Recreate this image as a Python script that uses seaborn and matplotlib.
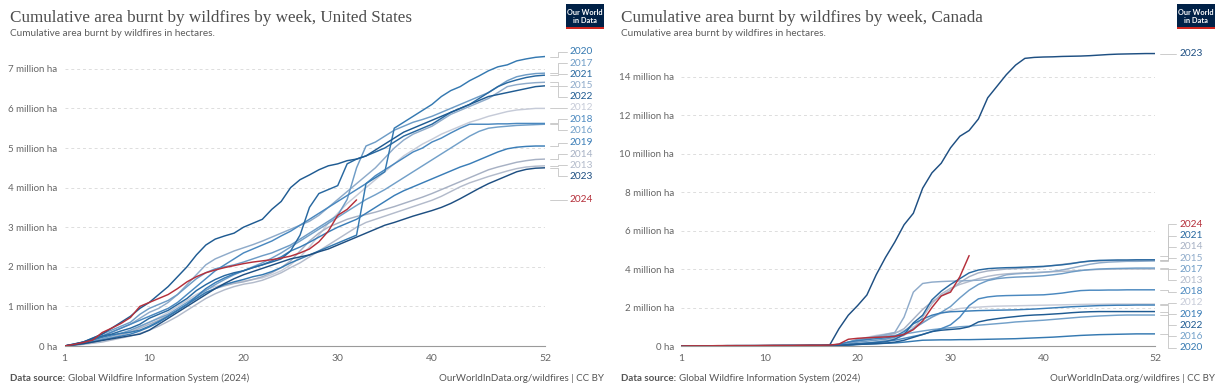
import pandas as pd
import seaborn as sns
import matplotlib.pyplot as plt
from matplotlib.patches import Rectangle

# Cumulative burnt area, million hectares, by week (1..52)
weeks = list(range(1, 53))
years = list(range(2012, 2025))

us_2012 = [0, .02, .05, .10, .15, .22, .30, .38, .48, .60,
           .72, .85, 1.00, 1.15, 1.30, 1.42, 1.50, 1.56, 1.60, 1.64,
           1.68, 1.72, 1.80, 1.90, 2.05, 2.25, 2.50, 2.80, 3.10, 3.35,
           3.60, 3.80, 4.00, 4.20, 4.40, 4.60, 4.80, 4.95, 5.10, 5.22,
           5.35, 5.45, 5.55, 5.65, 5.72, 5.80, 5.86, 5.92, 5.96, 5.98,
           6.00, 6.00]
us_2013 = [0, .02, .04, .07, .10, .15, .20, .25, .32, .40,
           .50, .62, .75, .90, 1.05, 1.20, 1.32, 1.42, 1.50, 1.56,
           1.60, 1.66, 1.75, 1.85, 1.98, 2.10, 2.25, 2.40, 2.55, 2.70,
           2.85, 3.00, 3.12, 3.20, 3.28, 3.36, 3.44, 3.52, 3.60, 3.68,
           3.78, 3.90, 4.02, 4.12, 4.20, 4.28, 4.35, 4.42, 4.48, 4.52,
           4.54, 4.55]
us_2014 = [0, .02, .05, .10, .15, .20, .28, .35, .45, .55,
           .65, .78, .90, 1.05, 1.20, 1.35, 1.45, 1.52, 1.58, 1.62,
           1.68, 1.75, 1.85, 1.98, 2.15, 2.40, 2.65, 2.85, 3.00, 3.10,
           3.20, 3.27, 3.32, 3.38, 3.45, 3.52, 3.60, 3.68, 3.76, 3.85,
           3.95, 4.05, 4.15, 4.25, 4.35, 4.45, 4.52, 4.58, 4.64, 4.68,
           4.71, 4.72]
us_2015 = [0, .03, .08, .15, .25, .35, .45, .55, .70, .85,
           .95, 1.10, 1.30, 1.55, 1.80, 2.05, 2.20, 2.30, 2.40, 2.48,
           2.56, 2.65, 2.75, 2.85, 2.95, 3.05, 3.15, 3.30, 3.50, 3.70,
           3.90, 4.10, 4.30, 4.50, 4.75, 5.00, 5.20, 5.35, 5.45, 5.55,
           5.70, 5.85, 5.95, 6.05, 6.15, 6.25, 6.40, 6.55, 6.60, 6.63,
           6.65, 6.66]
us_2016 = [0, .03, .07, .12, .18, .25, .32, .40, .50, .60,
           .70, .80, .95, 1.10, 1.25, 1.40, 1.55, 1.68, 1.80, 1.90,
           2.00, 2.10, 2.22, 2.35, 2.50, 2.65, 2.80, 2.95, 3.10, 3.25,
           3.40, 3.55, 3.70, 3.82, 3.95, 4.10, 4.25, 4.40, 4.55, 4.70,
           4.85, 5.00, 5.15, 5.30, 5.42, 5.50, 5.53, 5.55, 5.57, 5.58,
           5.59, 5.60]
us_2017 = [0, .05, .10, .20, .30, .40, .50, .60, .80, .95,
           1.05, 1.15, 1.30, 1.50, 1.70, 1.85, 1.95, 2.00, 2.05, 2.12,
           2.20, 2.28, 2.35, 2.45, 2.55, 2.70, 2.85, 3.00, 3.15, 3.30,
           3.70, 4.50, 5.05, 5.15, 5.30, 5.45, 5.55, 5.65, 5.72, 5.80,
           5.90, 6.00, 6.10, 6.20, 6.30, 6.40, 6.55, 6.70, 6.80, 6.85,
           6.88, 6.89]
us_2018 = [0, .04, .10, .17, .25, .35, .45, .55, .65, .75,
           .85, .95, 1.10, 1.30, 1.50, 1.70, 1.90, 2.05, 2.20, 2.35,
           2.45, 2.55, 2.65, 2.78, 2.90, 3.05, 3.20, 3.35, 3.50, 3.65,
           3.80, 3.95, 4.10, 4.30, 4.45, 4.60, 4.75, 4.90, 5.00, 5.15,
           5.25, 5.38, 5.50, 5.60, 5.60, 5.60, 5.61, 5.61, 5.62, 5.62,
           5.62, 5.62]
us_2019 = [0, .03, .06, .10, .15, .20, .25, .30, .38, .48,
           .60, .75, .90, 1.05, 1.25, 1.45, 1.60, 1.72, 1.82, 1.90,
           1.98, 2.05, 2.15, 2.25, 2.40, 2.50, 2.62, 2.75, 2.88, 3.00,
           3.10, 3.20, 3.35, 3.50, 3.65, 3.80, 3.92, 4.02, 4.12, 4.22,
           4.32, 4.42, 4.52, 4.60, 4.70, 4.80, 4.90, 4.98, 5.02, 5.04,
           5.05, 5.05]
us_2020 = [0, .03, .08, .15, .22, .28, .32, .35, .40, .50,
           .62, .75, .90, 1.05, 1.20, 1.35, 1.45, 1.55, 1.62, 1.68,
           1.75, 1.80, 1.88, 1.98, 2.10, 2.20, 2.30, 2.40, 2.50, 2.60,
           2.70, 2.80, 4.10, 4.25, 4.40, 5.50, 5.65, 5.80, 5.95, 6.10,
           6.30, 6.45, 6.55, 6.70, 6.82, 6.95, 7.05, 7.10, 7.20, 7.25,
           7.29, 7.31]
us_2021 = [0, .04, .10, .18, .25, .30, .38, .45, .55, .70,
           .80, .90, 1.05, 1.20, 1.40, 1.55, 1.68, 1.78, 1.85, 1.90,
           1.98, 2.05, 2.12, 2.20, 2.40, 2.80, 3.50, 3.85, 3.95, 4.05,
           4.60, 4.72, 4.80, 4.90, 5.00, 5.15, 5.30, 5.40, 5.50, 5.60,
           5.75, 5.90, 6.00, 6.10, 6.25, 6.40, 6.55, 6.65, 6.72, 6.78,
           6.82, 6.84]
us_2022 = [0, .05, .10, .20, .30, .45, .60, .75, .95, 1.10,
           1.30, 1.50, 1.75, 2.00, 2.30, 2.55, 2.70, 2.78, 2.85, 3.00,
           3.10, 3.20, 3.45, 3.65, 4.00, 4.20, 4.32, 4.45, 4.55, 4.60,
           4.68, 4.72, 4.80, 4.95, 5.10, 5.25, 5.40, 5.50, 5.60, 5.70,
           5.80, 5.90, 6.00, 6.10, 6.20, 6.30, 6.35, 6.40, 6.45, 6.50,
           6.55, 6.57]
us_2023 = [0, .03, .06, .10, .14, .18, .22, .26, .30, .40,
           .55, .70, .85, 1.00, 1.15, 1.30, 1.45, 1.58, 1.70, 1.80,
           1.88, 1.96, 2.04, 2.12, 2.20, 2.25, 2.30, 2.38, 2.45, 2.55,
           2.65, 2.75, 2.85, 2.95, 3.05, 3.12, 3.20, 3.28, 3.35, 3.42,
           3.50, 3.60, 3.72, 3.85, 3.98, 4.10, 4.20, 4.30, 4.40, 4.46,
           4.49, 4.50]
us_2024 = [0, .04, .09, .15, .34, .45, .57, .72, 1.00, 1.10,
           1.20, 1.30, 1.45, 1.62, 1.75, 1.85, 1.92, 1.98, 2.03, 2.08,
           2.12, 2.15, 2.18, 2.22, 2.27, 2.35, 2.45, 2.63, 2.90, 3.30,
           3.45, 3.69]

ca_2012 = [0, .01, .01, .01, .01, .01, .02, .02, .02, .02,
           .02, .02, .03, .03, .03, .03, .04, .06, .10, .30,
           .45, .55, .62, .70, .80, 1.00, 1.25, 1.50, 1.70, 1.85,
           1.95, 2.00, 2.02, 2.05, 2.07, 2.08, 2.09, 2.10, 2.11, 2.12,
           2.13, 2.14, 2.15, 2.16, 2.17, 2.17, 2.18, 2.18, 2.18, 2.18,
           2.18, 2.18]
ca_2013 = [0, .01, .01, .01, .01, .01, .01, .02, .02, .02,
           .02, .02, .02, .02, .03, .03, .03, .04, .05, .10,
           .15, .20, .28, .38, .55, .90, 1.50, 2.20, 2.70, 3.00,
           3.20, 3.35, 3.50, 3.62, 3.70, 3.75, 3.78, 3.80, 3.82, 3.84,
           3.86, 3.88, 3.90, 3.93, 3.96, 3.98, 3.99, 4.00, 4.00, 4.00,
           4.00, 4.00]
ca_2014 = [0, .01, .01, .01, .01, .02, .02, .02, .02, .02,
           .03, .03, .03, .03, .04, .04, .04, .05, .15, .25,
           .35, .45, .55, .65, .90, 1.40, 1.90, 2.30, 2.60, 2.90,
           3.30, 3.60, 3.80, 3.90, 3.95, 4.00, 4.02, 4.05, 4.08, 4.12,
           4.18, 4.24, 4.30, 4.36, 4.40, 4.42, 4.44, 4.45, 4.45, 4.46,
           4.46, 4.46]
ca_2015 = [0, .01, .01, .01, .01, .01, .02, .02, .02, .02,
           .02, .03, .03, .03, .03, .04, .04, .05, .20, .30,
           .40, .50, .60, .70, 1.50, 2.80, 3.25, 3.32, 3.35, 3.37,
           3.38, 3.40, 3.42, 3.45, 3.55, 3.70, 3.75, 3.78, 3.80, 3.83,
           3.88, 3.95, 4.05, 4.15, 4.25, 4.32, 4.36, 4.38, 4.40, 4.40,
           4.41, 4.42]
ca_2016 = [0, .01, .01, .01, .01, .01, .01, .01, .02, .02,
           .02, .02, .02, .02, .03, .03, .04, .05, .20, .35,
           .42, .46, .50, .55, .62, .70, .78, .85, .90, .95,
           1.00, 1.03, 1.08, 1.12, 1.16, 1.20, 1.25, 1.28, 1.31, 1.34,
           1.38, 1.42, 1.46, 1.50, 1.53, 1.56, 1.58, 1.60, 1.61, 1.61,
           1.61, 1.61]
ca_2017 = [0, .01, .01, .01, .01, .01, .01, .01, .01, .02,
           .02, .02, .02, .02, .02, .02, .02, .02, .10, .20,
           .25, .30, .35, .45, .65, .90, 1.20, 1.50, 1.75, 2.05,
           2.50, 2.90, 3.20, 3.40, 3.50, 3.55, 3.58, 3.60, 3.62, 3.65,
           3.70, 3.76, 3.85, 3.92, 3.97, 4.00, 4.02, 4.03, 4.04, 4.05,
           4.05, 4.05]
ca_2018 = [0, .01, .01, .01, .01, .01, .01, .01, .01, .01,
           .01, .01, .02, .02, .02, .02, .02, .02, .05, .10,
           .15, .20, .25, .30, .40, .50, .60, .75, .90, 1.10,
           1.50, 2.10, 2.45, 2.55, 2.60, 2.62, 2.63, 2.64, 2.65, 2.66,
           2.70, 2.75, 2.82, 2.88, 2.90, 2.90, 2.91, 2.91, 2.92, 2.92,
           2.92, 2.92]
ca_2019 = [0, .01, .01, .01, .01, .01, .01, .01, .01, .01,
           .01, .02, .02, .02, .02, .02, .02, .10, .20, .28,
           .33, .38, .42, .50, .75, 1.15, 1.40, 1.60, 1.72, 1.78,
           1.80, 1.82, 1.84, 1.85, 1.86, 1.87, 1.88, 1.90, 1.92, 1.95,
           1.98, 2.01, 2.04, 2.06, 2.08, 2.10, 2.11, 2.12, 2.12, 2.13,
           2.13, 2.13]
ca_2020 = [0, .01, .01, .01, .01, .01, .01, .01, .01, .01,
           .01, .01, .01, .01, .01, .01, .01, .02, .05, .08,
           .10, .12, .14, .16, .20, .25, .30, .31, .32, .32,
           .33, .33, .34, .35, .36, .37, .38, .40, .42, .44,
           .46, .49, .52, .55, .57, .59, .60, .61, .62, .63,
           .63, .63]
ca_2021 = [0, .01, .01, .01, .01, .01, .01, .01, .01, .01,
           .01, .01, .01, .01, .01, .01, .01, .03, .08, .12,
           .15, .18, .22, .35, .60, 1.20, 1.60, 2.40, 2.85, 3.20,
           3.50, 3.80, 3.95, 4.02, 4.05, 4.07, 4.08, 4.10, 4.12, 4.14,
           4.18, 4.22, 4.28, 4.36, 4.42, 4.45, 4.46, 4.47, 4.47, 4.48,
           4.48, 4.48]
ca_2022 = [0, .01, .01, .01, .01, .01, .01, .01, .01, .01,
           .01, .01, .01, .01, .01, .01, .01, .02, .05, .08,
           .10, .12, .15, .20, .30, .45, .60, .75, .82, .86,
           .90, 1.00, 1.25, 1.35, 1.42, 1.48, 1.53, 1.58, 1.61, 1.63,
           1.66, 1.69, 1.73, 1.76, 1.78, 1.79, 1.79, 1.79, 1.79, 1.79,
           1.79, 1.79]
ca_2023 = [0, .01, .01, .01, .01, .02, .02, .02, .02, .02,
           .03, .03, .03, .03, .04, .04, .05, .90, 1.60, 2.10,
           2.65, 3.70, 4.60, 5.40, 6.30, 6.90, 8.20, 9.00, 9.50, 10.30,
           10.90, 11.20, 11.80, 12.90, 13.50, 14.10, 14.60, 14.95, 15.00, 15.02,
           15.03, 15.05, 15.06, 15.07, 15.09, 15.12, 15.15, 15.17, 15.18, 15.19,
           15.20, 15.20]
ca_2024 = [0, .01, .01, .01, .02, .02, .02, .02, .02, .03,
           .03, .03, .03, .04, .04, .04, .05, .10, .35, .40,
           .43, .45, .47, .50, .60, .85, 1.30, 2.00, 2.60, 2.80,
           3.60, 4.70]

us_series = [us_2012, us_2013, us_2014, us_2015, us_2016, us_2017, us_2018,
             us_2019, us_2020, us_2021, us_2022, us_2023, us_2024]
ca_series = [ca_2012, ca_2013, ca_2014, ca_2015, ca_2016, ca_2017, ca_2018,
             ca_2019, ca_2020, ca_2021, ca_2022, ca_2023, ca_2024]

year_colors = {2012: "#c6cbd8", 2013: "#b3bbcb", 2014: "#a7b1c4",
               2015: "#8fabca", 2016: "#72a0c9", 2017: "#6e9cc6",
               2018: "#4a88bf", 2019: "#3a7db7", 2020: "#3579b1",
               2021: "#2868a0", 2022: "#1f5b92", 2023: "#1e4f82",
               2024: "#b5303b"}


def to_long(series):
    rows = []
    for yr, vals in zip(years, series):
        for wk, v in zip(weeks, vals):
            rows.append({"year": yr, "week": wk, "area": v})
    return pd.DataFrame(rows)


sns.set_style("white")
plt.rcParams["font.family"] = ["Lato", "DejaVu Sans"]

W, H = 1222, 386
fig = plt.figure(figsize=(W / 100, H / 100), dpi=100)


def fx(x):
    return x / W


def fy(y):
    return 1 - y / H


def spread(vals, gap):
    ys = list(vals)
    for _ in range(500):
        moved = False
        for i in range(len(ys) - 1):
            d = ys[i] - ys[i + 1]
            if d < gap - 1e-9:
                s = (gap - d) / 2
                ys[i] += s
                ys[i + 1] -= s
                moved = True
        if not moved:
            break
    return ys


def panel(x0, x1, ymax, px_per_m, series, yticks, country, off):
    top = 346 - ymax * px_per_m
    ax = fig.add_axes([fx(x0), fy(346), fx(x1 - x0), (346 - top) / H])
    df = to_long(series)
    sns.lineplot(data=df, x="week", y="area", hue="year", palette=year_colors,
                 hue_order=years, estimator=None, legend=False, ax=ax,
                 linewidth=1.05)
    ax.set_xlim(1, 52)
    ax.set_ylim(0, ymax)
    ax.set_xticks([1, 10, 20, 30, 40, 52])
    ax.set_yticks(yticks)
    ax.set_yticklabels(["0 ha" if t == 0 else f"{t:g} million ha" for t in yticks])
    ax.set_xlabel("")
    ax.set_ylabel("")
    for s in ["top", "right", "left"]:
        ax.spines[s].set_visible(False)
    ax.spines["bottom"].set_color("#9a9a9a")
    ax.spines["bottom"].set_linewidth(0.8)
    ax.tick_params(axis="x", colors="#9a9a9a", length=4, width=0.8,
                   labelcolor="#666666", labelsize=7.5, pad=2)
    ax.tick_params(axis="y", length=0, labelcolor="#666666", labelsize=7, pad=5)
    for t in yticks[1:]:
        ax.axhline(t, color="#dddddd", lw=0.7, ls=(0, (3, 3)), zorder=0)

    # end labels with elbow connectors
    ends = sorted([(vals[-1], yr) for yr, vals in zip(years, series)], reverse=True)
    gap = 11.2 / px_per_m
    lab_y = spread([v for v, _ in ends], gap)
    for (v, yr), ly in zip(ends, lab_y):
        ax.plot([52.5, 53.4, 53.4, 54.3], [v, v, ly, ly], color="#c4c4c4",
                lw=0.6, clip_on=False)
        ax.text(54.6, ly, str(yr), color=year_colors[yr], fontsize=7.3,
                va="center", ha="left", clip_on=False)

    # header
    fig.text(fx(off + 10), fy(21.5), f"Cumulative area burnt by wildfires by week, {country}",
             fontsize=12.3, color="#4d4d4d", family=["Liberation Serif"],
             va="baseline")
    fig.text(fx(off + 10), fy(36.5), "Cumulative area burnt by wildfires in hectares.",
             fontsize=7.2, color="#5b5b5b", va="baseline")
    # logo
    fig.add_artist(Rectangle((fx(off + 566), fy(29)), fx(38), 25 / H,
                             facecolor="#002147", edgecolor="none",
                             transform=fig.transFigure))
    fig.add_artist(Rectangle((fx(off + 566), fy(29)), fx(38), 2 / H,
                             facecolor="#ce261e", edgecolor="none",
                             transform=fig.transFigure))
    fig.text(fx(off + 585), fy(12.5), "Our World", color="white", fontsize=5.3,
             ha="center", va="center", weight="bold")
    fig.text(fx(off + 585), fy(20.5), "in Data", color="white", fontsize=5.3,
             ha="center", va="center", weight="bold")
    # footer
    t1 = fig.text(fx(off + 10), fy(381), "Data source:", fontsize=7, color="#555555",
                  weight="bold", va="baseline")
    fig.canvas.draw()
    bb = t1.get_window_extent()
    fig.text(bb.x1 / W + fx(3), fy(381), "Global Wildfire Information System (2024)",
             fontsize=7, color="#555555", va="baseline")
    fig.text(fx(off + 604), fy(381), "OurWorldInData.org/wildfires | CC BY",
             fontsize=7, color="#555555", va="baseline", ha="right")
    return ax


panel(64.5, 545, 7.35, 39.6, us_series, [0, 1, 2, 3, 4, 5, 6, 7], "United States", 0)
panel(681, 1155, 15.5, 19.24, ca_series, [0, 2, 4, 6, 8, 10, 12, 14], "Canada", 611)

fig.savefig("out.png", dpi=100)
